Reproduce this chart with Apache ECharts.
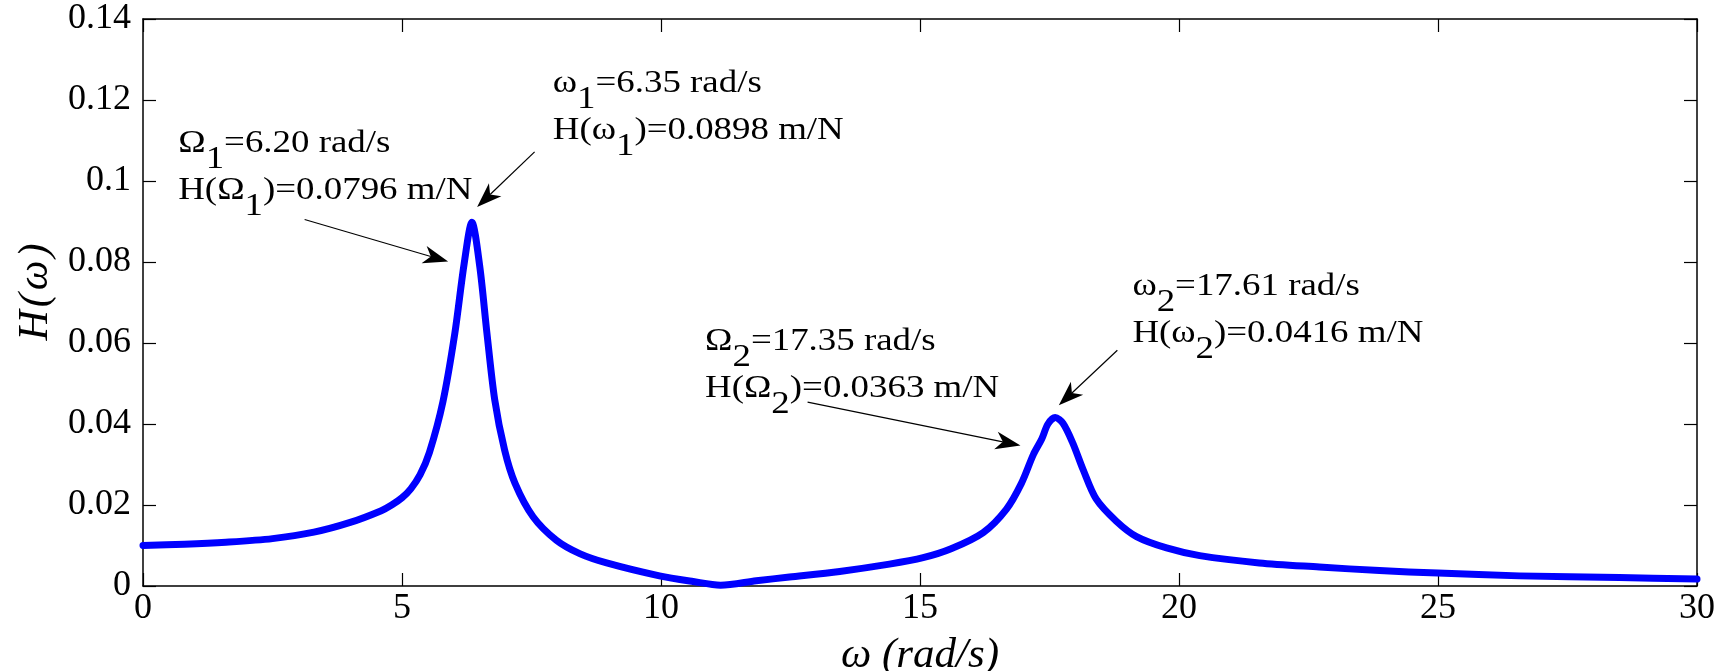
<!DOCTYPE html>
<html>
<head>
<meta charset="utf-8">
<script src="https://cdn.jsdelivr.net/npm/echarts@6/dist/echarts.min.js"></script>
<style>
  html, body { margin: 0; padding: 0; background: #fff; }
  #chart { width: 1728px; height: 671px; }
</style>
</head>
<body>
<div id="chart"></div>
<script>
// frequency response
const omega = [0, 0.8, 1.6, 2.5, 3.3, 4.0, 4.6, 4.8, 5.0, 5.17, 5.35, 5.53, 5.79, 6.02, 6.20, 6.35, 6.50, 6.64, 6.79, 6.98, 7.18, 7.53, 7.98, 8.43, 8.95, 9.97, 10.62, 11.15, 11.84, 12.48, 13.45, 14.41, 15.06, 15.6, 16.22, 16.67, 16.96, 17.19, 17.35, 17.47, 17.61, 17.76, 17.95, 18.15, 18.40, 18.79, 19.18, 19.76, 20.40, 21.55, 22.71, 23.87, 25.0, 26.57, 28.5, 30];
const amplitude = [0.0100, 0.0103, 0.0108, 0.0117, 0.0133, 0.0157, 0.0186, 0.0200, 0.0218, 0.0240, 0.0275, 0.0330, 0.0455, 0.0624, 0.0796, 0.0898, 0.0790, 0.0624, 0.0460, 0.0336, 0.0254, 0.0171, 0.0113, 0.0080, 0.0057, 0.0025, 0.0011, 0.0002, 0.0013, 0.0022, 0.0036, 0.0054, 0.0070, 0.0092, 0.0132, 0.0190, 0.0254, 0.0325, 0.0363, 0.0400, 0.0416, 0.0402, 0.0353, 0.0287, 0.0215, 0.0160, 0.0122, 0.0094, 0.0075, 0.0057, 0.0047, 0.0038, 0.0032, 0.0025, 0.0021, 0.0017];

const xRange = [0, 30, 5];
const yRange = [0, 0.14, 0.02];

// annotations, in data units
const arrowFrom = [[3.12, 0.0905], [7.56, 0.1072], [12.83, 0.0454], [18.81, 0.0582]];
const arrowTo = [[5.89, 0.0801], [6.45, 0.0936], [16.94, 0.0347], [17.68, 0.0446]];
const noteAt = [[0.68, 0.1130], [7.91, 0.1278], [10.85, 0.0640], [19.10, 0.0778]];
const noteText = [
  '{n|Ω}{s|1}{n|=6.20 rad/s}\n{n|H(Ω}{s|1}{n|)=0.0796 m/N}',
  '{n|ω}{s|1}{n|=6.35 rad/s}\n{n|H(ω}{s|1}{n|)=0.0898 m/N}',
  '{n|Ω}{s|2}{n|=17.35 rad/s}\n{n|H(Ω}{s|2}{n|)=0.0363 m/N}',
  '{n|ω}{s|2}{n|=17.61 rad/s}\n{n|H(ω}{s|2}{n|)=0.0416 m/N}'
];

const font = 'Liberation Serif';
const chart = echarts.init(document.getElementById('chart'));

const tickStyle = { inside: true, length: 13, lineStyle: { color: '#000', width: 1.2 } };
const lineStyle = { onZero: false, lineStyle: { color: '#000', width: 1.5 } };

// y title is slightly letter-spaced like the original
const yTitle = { fontFamily: font, fontSize: 42, fontStyle: 'italic', color: '#000', padding: [0, 1.5, 0, 1.5] };

chart.setOption({
  animation: false,
  grid: { left: 143, right: 31, top: 19, bottom: 85, containLabel: false, outerBoundsMode: 'none' },
  xAxis: [{
    type: 'value', min: xRange[0], max: xRange[1], interval: xRange[2],
    axisLine: lineStyle, axisTick: tickStyle, splitLine: { show: false },
    axisLabel: { color: '#000', fontFamily: font, fontSize: 36, margin: 5 },
    name: 'ω (rad/s)', nameLocation: 'middle', nameGap: 48,
    nameTextStyle: { color: '#000', fontFamily: font, fontSize: 43, fontStyle: 'italic' }
  }, {
    type: 'value', position: 'top', min: xRange[0], max: xRange[1], interval: xRange[2],
    axisLine: lineStyle, axisTick: tickStyle, axisLabel: { show: false }, splitLine: { show: false }
  }],
  yAxis: [{
    type: 'value', min: yRange[0], max: yRange[1], interval: yRange[2],
    axisLine: lineStyle, axisTick: tickStyle, splitLine: { show: false },
    axisLabel: { color: '#000', fontFamily: font, fontSize: 36, margin: 12 },
    name: '{t|H}{t|(}{t|ω}{t|)}', nameLocation: 'middle', nameGap: 59, nameRotate: 90,
    nameTextStyle: { color: '#000', fontFamily: font, fontSize: 42, fontStyle: 'italic', padding: [0, 0, 0, 21], rich: { t: yTitle } }
  }, {
    type: 'value', position: 'right', min: yRange[0], max: yRange[1], interval: yRange[2],
    axisLine: lineStyle, axisTick: tickStyle, axisLabel: { show: false }, splitLine: { show: false }
  }],
  series: [{
    type: 'line',
    data: omega.map((w, i) => [w, amplitude[i]]),
    showSymbol: false,
    smooth: 0.3,
    lineStyle: { color: '#0000ff', width: 7, cap: 'round', join: 'round' }
  }]
});

// normal tokens sit at the top of a 47px line, subscripts at its bottom
const rich = {
  n: { fontFamily: font, fontSize: 31, lineHeight: 19, verticalAlign: 'top', fill: '#000' },
  s: { fontFamily: font, fontSize: 31, lineHeight: 47, verticalAlign: 'bottom', fill: '#000' }
};

const toPx = p => chart.convertToPixel({ xAxisIndex: 0, yAxisIndex: 0 }, p);
const headLen = 25, headWidth = 18;
const graphics = [];

arrowFrom.forEach((p, i) => {
  const a = toPx(p), b = toPx(arrowTo[i]);
  const dx = b[0] - a[0], dy = b[1] - a[1];
  const len = Math.hypot(dx, dy);
  const ux = dx / len, uy = dy / len, nx = -uy, ny = ux;
  const back = [b[0] - headLen * ux, b[1] - headLen * uy];
  const notch = [b[0] - 0.72 * headLen * ux, b[1] - 0.72 * headLen * uy];
  graphics.push({
    type: 'line', silent: true,
    shape: { x1: a[0], y1: a[1], x2: notch[0], y2: notch[1] },
    style: { stroke: '#000', lineWidth: 1.2 }
  });
  graphics.push({
    type: 'polygon', silent: true,
    shape: { points: [b, [back[0] + nx * headWidth / 2, back[1] + ny * headWidth / 2], notch, [back[0] - nx * headWidth / 2, back[1] - ny * headWidth / 2]] },
    style: { fill: '#000' }
  });
});

noteAt.forEach((p, i) => {
  const px = toPx(p);
  graphics.push({
    type: 'text', x: px[0], y: px[1], scaleX: 1.19, silent: true,
    style: { text: noteText[i], rich: rich, fill: '#000', font: '31px ' + font, verticalAlign: 'top', align: 'left' }
  });
});

chart.setOption({ graphic: graphics });
</script>
</body>
</html>
